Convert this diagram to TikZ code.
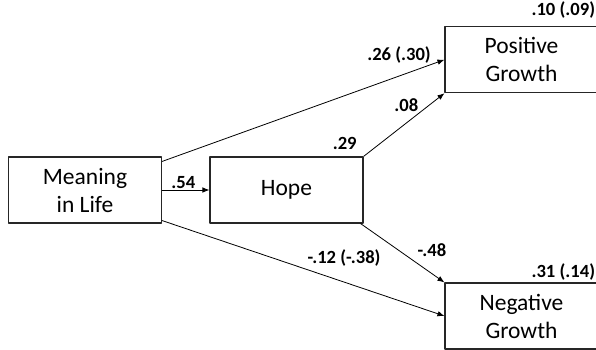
\documentclass[tikz,border=0pt]{standalone}
\usepackage{fontspec}
\setmainfont{Carlito}
\usetikzlibrary{arrows.meta}
\begin{document}
\begin{tikzpicture}[x=1pt,y=-1pt,>={Latex[length=7pt,width=5.5pt]}, line join=round,
		var/.style={draw=black!85,line width=1.1pt,minimum width=153pt,minimum height=66pt,inner sep=0pt,align=center,font=\fontsize{23.5}{28}\selectfont},
		coef/.style={inner sep=0pt,font=\fontsize{18.6}{22}\selectfont\bfseries},
		path/.style={->,line width=.8pt}]
	\useasboundingbox (0,0) rectangle (596,350);
	% Bien
	\node[var] (mil) at (85,190) {Meaning\\in Life};
	\node[var] (hope) at (286.5,190) {Hope};
	\node[var] (pos) at (521.5,59.7) {Positive\\Growth};
	\node[var] (neg) at (521.5,316) {Negative\\Growth};
	% Duong dan
	\draw[path] ([yshift=-5pt]mil.north east)--(pos.west);
	\draw[path] (mil.east)--(hope.west);
	\draw[path] ([yshift=3pt]mil.south east)--(neg.west);
	\draw[path] (hope.north east)--(pos.south west);
	\draw[path] ([xshift=-3pt]hope.south east)--(neg.north west);
	% He so
	\node[coef] (c54) at (183.3,182.5) {.54};
	\node[coef] (c29) at (344.7,143.3) {.29};
	\node[coef] (c08) at (406.3,105) {.08};
	\node[coef] (c26) at (399,55) {.26 (.30)};
	\node[coef] (c48) at (432,250.5) {-.48};
	\node[coef] (c12) at (344,258) {-.12 (-.38)};
	\node[coef] (r2pos) at (563.3,10.5) {.10 (.09)};
	\node[coef] (r2neg) at (563.3,272) {.31 (.14)};
\end{tikzpicture}
\end{document}
